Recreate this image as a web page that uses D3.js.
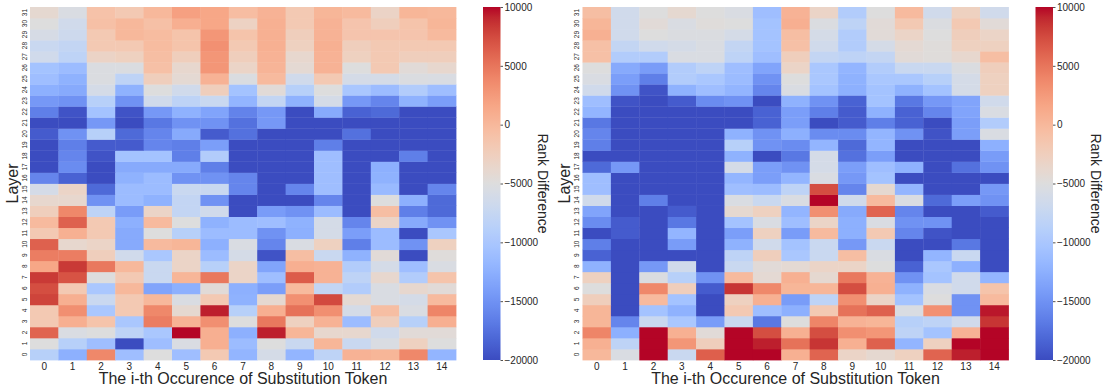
<!DOCTYPE html>
<html><head><meta charset="utf-8">
<script src="https://cdn.jsdelivr.net/npm/d3@7/dist/d3.min.js"></script>
<style>
body{margin:0;background:#fff}
svg text{font-family:"Liberation Sans",Arial,Helvetica,sans-serif;fill:#262626}
</style>
</head><body>
<svg id="chart" width="1104" height="392"></svg>
<script>
// ---------- data ----------
const layers = [0,1,2,3,4,5,6,7,8,9,10,11,12,13,14,15,16,17,18,19,20,21,22,23,24,25,26,27,28,29,30,31];
const occurrences = [0,1,2,3,4,5,6,7,8,9,10,11,12,13,14];
const colorbarTicks = [10000, 5000, 0, -5000, -10000, -15000, -20000];
const vmin = -20000, vmax = 10000;
const xTitle = "The i-th Occurence of Substitution Token";
const yTitle = "Layer";
const cbTitle = "Rank Difference";

// rows = layer 0..31, columns = occurrence 0..14
const leftValues = [
 [-8800,-12500,3800,-11000,-5000,-11000,-1800,-12000,-6000,-12000,-8200,500,200,3800,-12000],
 [-5000,-8800,-11000,-20000,-11000,-5500,800,-11200,-5000,-7200,200,-7200,-5500,-2800,-5000],
 [6000,-5500,-5000,-8200,-10000,10000,800,-12500,9300,200,-3800,-3800,-6500,-4500,-4500],
 [-1800,800,-1200,-10000,4500,500,3300,-5000,4800,-2800,500,-11200,-2500,-8800,800],
 [-1800,3300,-10000,-1800,3800,-4000,9300,-8800,800,5200,3300,-6000,-600,-5500,4000],
 [7800,800,-7200,-1800,0,-5500,-1800,-12300,-4000,3200,7500,-4200,-5500,-6000,-200],
 [7300,-1800,-10000,0,-13500,-12500,-4500,-12500,-14000,-200,-7700,-9300,-5500,-3800,-4500],
 [8300,7000,-5000,-1800,-7200,200,4800,-3300,-11000,6500,500,-8200,-3800,-9300,-1200],
 [1500,8300,4800,0,-7200,-3300,-8800,-3300,-13500,800,500,-9300,-6000,-11000,-5500],
 [4500,4500,-2500,-6500,-10000,-3300,-11200,-6000,-19500,-600,-7200,-12300,-4500,-20000,-4800],
 [6200,-3800,-3300,-13000,-200,200,-12500,-5500,-16000,-5500,-2800,-16500,-11200,-15000,-2800],
 [-1800,700,-1800,-13000,-5000,-8800,-11200,-11200,-15000,-12500,-6000,-14000,-11200,-20000,-10000],
 [-200,6200,-1800,-12500,-200,-5000,-12300,-11200,-11000,-12300,-6000,-16000,-3300,-13000,-15000],
 [-2500,3800,-8200,-14200,-3300,-7700,-6500,-20000,-14200,-15000,-11200,-20000,-600,-16500,-18000],
 [-3800,-3800,-15000,-11200,-12300,-7700,-15000,-20000,-20000,-20000,-16000,-20000,-5000,-12500,-18000],
 [-6000,-3300,-18000,-11200,-11200,-7200,-7200,-16000,-20000,-16000,-11000,-20000,-11500,-20000,-16000],
 [-16000,-18500,-20000,-12300,-11200,-15000,-15000,-16000,-20000,-20000,-11000,-20000,-12300,-20000,-20000],
 [-20000,-15500,-20000,-13000,-13000,-13000,-16500,-20000,-20000,-20000,-11000,-20000,-12500,-20000,-20000],
 [-20000,-16000,-19500,-10500,-10500,-16500,-9300,-20000,-20000,-20000,-11000,-20000,-20000,-16500,-20000],
 [-20000,-16500,-19000,-19000,-16000,-16500,-14000,-20000,-20000,-20000,-16500,-20000,-20000,-20000,-20000],
 [-19000,-15000,-8800,-18000,-16000,-13000,-19000,-17500,-20000,-20000,-20000,-17500,-20000,-20000,-20000],
 [-20000,-20000,-14500,-20000,-17000,-15000,-15000,-17500,-14500,-20000,-20000,-20000,-20000,-20000,-20000],
 [-16500,-19500,-10500,-19500,-14500,-12300,-13500,-16200,-14500,-20000,-13000,-18500,-18000,-20000,-20000],
 [-14500,-15000,-8800,-15000,-6500,-8200,-7200,-12000,-7700,-12300,-6000,-14500,-16000,-12300,-14000],
 [-12500,-13000,-6000,-12300,-5000,-6500,-2500,-10500,-4500,-8800,-5000,-10000,-11200,-9300,-11000],
 [-11000,-12300,-5300,-8200,-2500,-4200,500,-5300,-200,-6500,-1800,-6000,-6000,-5300,-5500],
 [-10500,-11200,-5300,-5300,-800,-3800,2800,-3300,300,-4200,500,-5000,-1800,-4500,-3800],
 [-6500,-8200,-3200,-2800,-600,-2500,2800,-2500,500,-3800,500,-2800,-1800,-2500,-2500],
 [-7200,-7700,-1800,-1800,-400,-1200,3200,-1800,700,-2800,700,-2500,-1800,-1800,-1800],
 [-5800,-6800,-1800,0,-400,-1200,2800,-1200,700,-2500,500,-1300,-1300,-1300,-200],
 [-5000,-6500,-800,0,-800,800,1500,-3000,700,-1800,500,-1300,-2500,-1200,200],
 [-4000,-5500,-1000,-1800,0,2000,1500,-500,500,-1800,200,-200,-3200,200,0]
];

const rightValues = [
 [0,-5500,10000,-7200,6300,10000,10000,700,6000,-3300,-4000,-2800,6000,9300,10000],
 [700,-8200,10000,2800,-2500,10000,9300,5200,8500,700,6200,-12000,-2800,10000,10000],
 [4000,-12500,10000,700,-4500,10000,7300,700,7300,3300,2800,-8200,-10500,500,10000],
 [200,-16000,-7200,-10000,-14200,-7200,-17000,-5000,4000,500,200,-8800,-8200,-6500,8500],
 [200,-20000,-10500,-12300,-20000,-1800,-11000,-12500,-1800,5200,6200,-5500,3200,-15000,9500],
 [-2500,-20000,-200,-10500,-20000,-2800,700,-14200,-8200,3300,-3300,-10500,-5000,-15000,-200],
 [-5000,-20000,3800,-2500,-19000,8500,3800,200,200,7300,700,-12300,-5500,-6500,-1200],
 [-2800,-20000,-5300,-8800,-15000,-200,-4200,700,-4000,4800,500,-15000,-10500,-6500,-12000],
 [-12300,-20000,-14500,-6500,-20000,-7200,-4500,-4200,-3300,-3300,-5000,-18500,-10000,-12500,-20000],
 [-18500,-20000,-20000,-20000,-20000,-8200,-2500,-10000,-7200,-600,-5500,-20000,-12000,-7200,-20000],
 [-16500,-20000,-20000,-14200,-20000,-12300,-6500,-10500,-7200,-14500,-7200,-20000,-20000,-17000,-20000],
 [-20000,-19000,-20000,-12000,-20000,-14000,-2800,-14200,-200,-12500,-1800,-16000,-19500,-20000,-20000],
 [-15500,-19000,-20000,-17000,-20000,-10500,-5500,-11000,-3300,-12500,-5500,-15000,-15000,-20000,-20000],
 [-13500,-20000,-20000,-19000,-20000,-4000,-2800,-12000,3300,-13000,6000,-16000,-20000,-20000,-19000],
 [-6500,-20000,-16500,-20000,-20000,-5500,-7200,-5500,10000,-6500,-200,-5500,-18000,-14000,-15000],
 [-11000,-20000,-20000,-20000,-20000,-11000,-11200,-8200,7300,-16000,-4000,-12000,-20000,-20000,-14500],
 [-11000,-20000,-20000,-20000,-20000,-12000,-14000,-12000,-5500,-14500,-10500,-20000,-20000,-20000,-20000],
 [-18000,-14500,-20000,-20000,-20000,-6000,-14000,-15000,-6000,-14000,-11000,-12300,-20000,-17500,-15000],
 [-20000,-20000,-20000,-20000,-20000,-12300,-20000,-17000,-6000,-17500,-14000,-20000,-20000,-20000,-14200],
 [-16500,-20000,-20000,-20000,-20000,-8800,-15000,-15500,-12000,-18000,-12000,-20000,-20000,-20000,-12500],
 [-16000,-20000,-20000,-20000,-20000,-12300,-15000,-12500,-15500,-15500,-12000,-15000,-19500,-14000,-5500],
 [-17000,-20000,-20000,-20000,-20000,-20000,-18500,-14000,-20000,-19000,-16500,-18500,-20000,-14000,-9300],
 [-12000,-20000,-20000,-20000,-20000,-20000,-18500,-14000,-16500,-19000,-12300,-18500,-16000,-13500,-5500],
 [-11000,-19500,-20000,-19000,-15500,-15000,-20000,-12300,-15000,-18500,-10500,-17000,-14500,-13500,-6500],
 [-6500,-15000,-19500,-12300,-11000,-12000,-16000,-5500,-10500,-12500,-10500,-12300,-10500,-6000,-2800],
 [-5500,-14000,-16500,-9300,-10000,-11200,-15000,-5000,-10000,-12300,-10000,-10000,-8800,-6000,-2800],
 [-5000,-13000,-14200,-9300,-8200,-11000,-13500,-3300,-10000,-12000,-9300,-7200,-7200,-5300,-2500],
 [-800,-9300,-9300,-5500,-5500,-8200,-11000,-2500,-7700,-8200,-7700,-4500,-4800,-3800,-600],
 [-800,-7700,-6500,-6000,-5500,-7700,-10500,-800,-6500,-9300,-6000,-4200,-4800,-2800,-2800],
 [700,-6500,-5000,-5300,-5300,-6000,-10500,-600,-6000,-9300,-4500,-3300,-5000,-2500,-3300],
 [200,-6500,-4500,-5500,-4800,-5000,-10500,800,-5300,-8200,-4500,-1800,-5300,-1800,-4500],
 [-600,-6500,-5000,-4000,-5000,-5500,-11000,500,-3300,-9300,-5000,-200,-6500,-2800,-6500]
];

// matplotlib "coolwarm" colormap anchor colours (33 evenly spaced stops)
const coolwarm = [
 [59,76,192],[68,90,204],[77,104,215],[87,117,225],[98,130,234],[108,142,241],[119,154,247],[130,165,251],
 [141,176,254],[152,185,255],[163,194,255],[174,201,253],[184,208,249],[194,213,244],[204,217,238],[213,219,230],
 [221,221,221],[229,216,209],[236,211,197],[241,204,184],[245,196,172],[247,187,159],[247,177,147],[247,166,134],
 [244,154,123],[241,141,111],[236,127,99],[229,112,88],[222,96,77],[213,80,66],[203,62,56],[192,40,47],[180,4,38]
];

// ---------- drawing ----------
const svg = d3.select("#chart");
const cmapScale = d3.scaleLinear()
  .domain(coolwarm.map((_, i) => i / (coolwarm.length - 1)))
  .range(coolwarm.map(c => `rgb(${c[0]},${c[1]},${c[2]})`))
  .interpolate(d3.interpolateRgb)
  .clamp(true);
const norm = d3.scaleLinear().domain([vmin, vmax]).range([0, 1]).clamp(true);
const color = v => cmapScale(norm(v));

const fmt = v => (v < 0 ? "\u2212" + Math.abs(v) : String(v));

const yTop = 7, yBottom = 360;
const panels = [
  {values: leftValues,  x0: 30,    x1: 456,    cb: 483},
  {values: rightValues, x0: 582.5, x1: 1008.5, cb: 1035.5}
];
const cbW = 17.5;

const defs = svg.append("defs");
const grad = defs.append("linearGradient").attr("id", "cwgrad")
  .attr("x1", 0).attr("y1", 1).attr("x2", 0).attr("y2", 0);
for (let i = 0; i <= 100; i++) {
  grad.append("stop").attr("offset", i / 100).attr("stop-color", cmapScale(i / 100));
}

panels.forEach(p => {
  const g = svg.append("g");
  const x = d3.scaleBand().domain(occurrences).range([p.x0, p.x1]);
  const y = d3.scaleBand().domain(layers.slice().reverse()).range([yTop, yBottom]);

  const cells = [];
  p.values.forEach((row, li) => row.forEach((v, ci) => cells.push({layer: layers[li], occ: occurrences[ci], v})));

  g.selectAll("rect.cell").data(cells).join("rect")
    .attr("class", "cell")
    .attr("x", d => x(d.occ))
    .attr("y", d => y(d.layer))
    .attr("width", x.bandwidth() + 0.4)
    .attr("height", y.bandwidth() + 0.4)
    .attr("fill", d => color(d.v));

  const xa = g.append("g").attr("transform", `translate(0,${yBottom})`)
    .call(d3.axisBottom(x).tickSize(0).tickPadding(2.5));
  xa.select(".domain").remove();
  xa.selectAll("text").style("font-size", "10px").style("fill", "#262626").style("font-family", "'Liberation Sans',Arial,sans-serif");

  const ya = g.append("g").attr("transform", `translate(${p.x0},0)`)
    .call(d3.axisLeft(y).tickSize(0));
  ya.select(".domain").remove();
  ya.selectAll(".tick text")
    .attr("x", 0).attr("dy", 0)
    .attr("text-anchor", "middle")
    .attr("transform", "translate(-3.3,0) rotate(-90)")
    .style("font-size", "6.5px").style("fill", "#262626").style("font-family", "'Liberation Sans',Arial,sans-serif");

  g.append("text")
    .attr("x", (p.x0 + p.x1) / 2).attr("y", 384)
    .attr("text-anchor", "middle").style("font-size", "16px")
    .text(xTitle);
  g.append("text")
    .attr("transform", `translate(${p.x0 - 12.5},${(yTop + yBottom) / 2}) rotate(-90)`)
    .attr("text-anchor", "middle").style("font-size", "16px")
    .text(yTitle);

  g.append("rect").attr("x", p.cb).attr("y", yTop).attr("width", cbW).attr("height", yBottom - yTop)
    .attr("fill", "url(#cwgrad)");
  const cy = d3.scaleLinear().domain([vmin, vmax]).range([yBottom, yTop]);
  const ca = g.append("g").attr("transform", `translate(${p.cb + cbW},0)`)
    .call(d3.axisRight(cy).tickValues(colorbarTicks).tickSize(2.5).tickPadding(1.5).tickFormat(fmt));
  ca.select(".domain").remove();
  ca.selectAll("line").attr("stroke", "#262626").attr("stroke-width", 0.8);
  ca.selectAll("text").style("font-size", "10px").style("fill", "#262626").style("font-family", "'Liberation Sans',Arial,sans-serif");
  g.append("text")
    .attr("transform", `translate(${p.cb + cbW + 37.5},${(yTop + yBottom) / 2}) rotate(90)`)
    .attr("text-anchor", "middle").style("font-size", "14px")
    .text(cbTitle);
});
</script>
</body></html>
